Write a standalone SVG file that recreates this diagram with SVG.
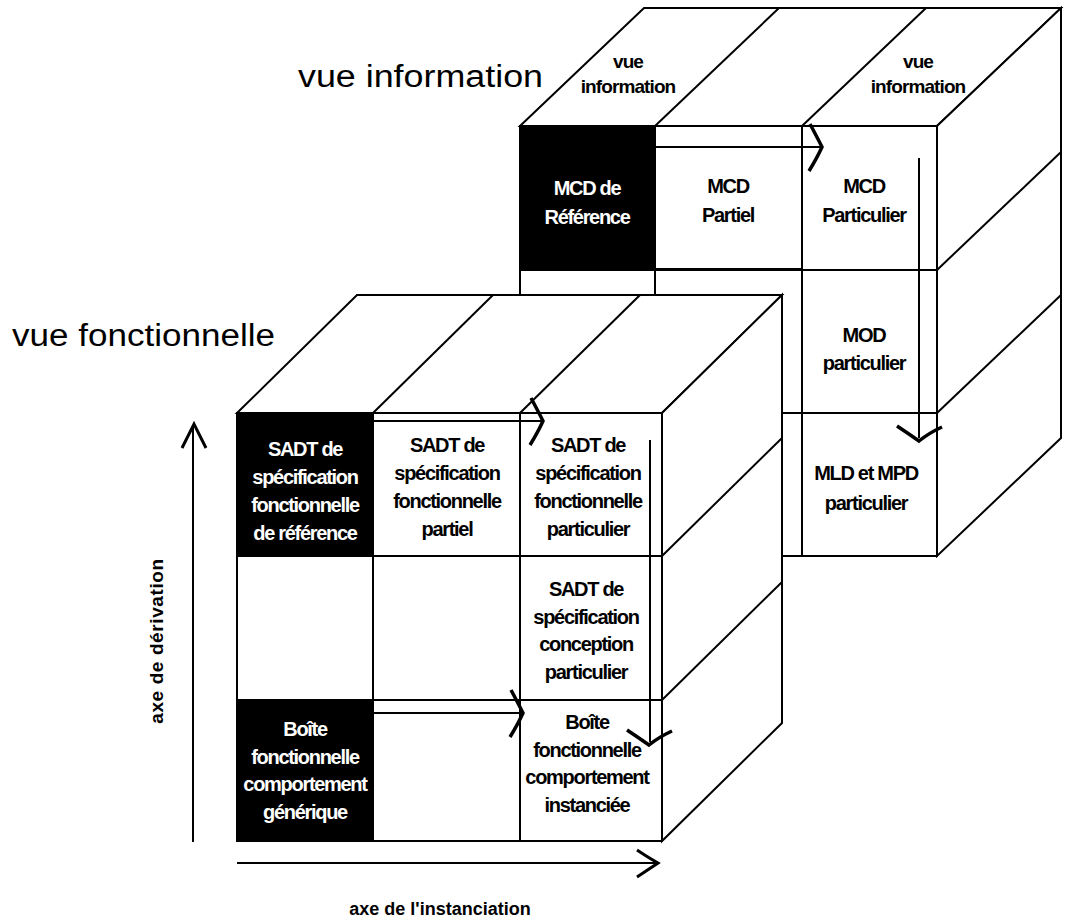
<svg xmlns="http://www.w3.org/2000/svg" xmlns:xlink="http://www.w3.org/1999/xlink" width="1066" height="922" viewBox="0 0 1066 922">
<style>
.ln{stroke:#000;stroke-width:2;fill:none}
.wf{fill:#fff;stroke:#000;stroke-width:2;stroke-linejoin:miter}
.blk{fill:#000;stroke:#000;stroke-width:2}
.t{font-family:"Liberation Sans",Arial,sans-serif;font-weight:bold;font-size:20px;letter-spacing:-1.3px;text-anchor:middle;fill:#000}
.w{fill:#fff}
.tv{font-family:"Liberation Sans",Arial,sans-serif;font-weight:bold;font-size:19px;letter-spacing:-0.9px;text-anchor:middle;fill:#000}
.hd{font-family:"Liberation Sans",Arial,sans-serif;font-size:31px;fill:#000}
.ax{font-family:"Liberation Sans",Arial,sans-serif;font-weight:bold;font-size:18px;text-anchor:middle;fill:#000}
</style>
<defs>
<path id="chevR" d="M-12,-23 Q-5,-10 0,0 Q-5,11 -13,24" fill="none" stroke="#000" stroke-width="3.5"/>
<path id="chevD" d="M-22,-15 Q-10,-7 0,0 Q10,-8 23,-14" fill="none" stroke="#000" stroke-width="3.5"/>
<path id="chevU" d="M-12,24 Q-5,10 0,0 Q5,10 12,24" fill="none" stroke="#000" stroke-width="3"/>
<path id="chevA" d="M-21,-13 Q-9,-5 0,0 Q-9,6 -21,14" fill="none" stroke="#000" stroke-width="3"/>
</defs>
<rect width="1066" height="922" fill="#fff"/>

<!-- headers -->
<text id="hdr-info" class="hd" x="298" y="87" textLength="245" lengthAdjust="spacingAndGlyphs">vue information</text>
<text id="hdr-fonc" class="hd" x="12" y="346" textLength="263" lengthAdjust="spacingAndGlyphs">vue fonctionnelle</text>

<!-- back cube: vue information -->
<g id="cube-information">
<polygon class="wf" points="520,126 644,8 1061,8 937,126"/>
<polygon class="wf" points="937,126 1061,8 1061,438 937,556"/>
<rect class="wf" x="520" y="126" width="417" height="430"/>
<line class="ln" x1="655" y1="126" x2="779" y2="8"/>
<line class="ln" x1="802" y1="126" x2="926" y2="8"/>
<line class="ln" x1="937" y1="270" x2="1061" y2="152"/>
<line class="ln" x1="937" y1="413" x2="1061" y2="295"/>
<line class="ln" x1="520" y1="270" x2="937" y2="270"/>
<line class="ln" x1="655" y1="269" x2="802" y2="269" stroke-width="3"/>
<line class="ln" x1="520" y1="413" x2="937" y2="413"/>
<line class="ln" x1="655" y1="126" x2="655" y2="556"/>
<line class="ln" x1="802" y1="126" x2="802" y2="556"/>
<text class="tv" x="628" y="68">vue</text>
<text class="tv" x="628" y="93">information</text>
<text class="tv" x="918" y="68">vue</text>
<text class="tv" x="918" y="93">information</text>
</g>
<g id="node-mcd-reference">
<rect class="blk" x="520" y="126" width="135" height="144"/>
<text class="t w" x="587" y="195">MCD de</text>
<text class="t w" x="587" y="224">Référence</text>
</g>
<g id="node-mcd-partiel">
<text class="t" x="728" y="193">MCD</text>
<text class="t" x="728" y="222">Partiel</text>
</g>
<g id="node-mcd-particulier">
<text class="t" x="864" y="193">MCD</text>
<text class="t" x="864" y="222">Particulier</text>
</g>
<g id="node-mod-particulier">
<text class="t" x="864" y="342">MOD</text>
<text class="t" x="864" y="370">particulier</text>
</g>
<g id="node-mld-mpd">
<text class="t" x="866" y="480">MLD et MPD</text>
<text class="t" x="866" y="510">particulier</text>
</g>

<!-- front cube: vue fonctionnelle -->
<g id="cube-fonctionnelle">
<polygon class="wf" points="237,413 357,295 782,295 662,413"/>
<polygon class="wf" points="662,413 782,295 782,723 662,841"/>
<rect class="wf" x="237" y="413" width="425" height="428"/>
<line class="ln" x1="373" y1="413" x2="493" y2="295"/>
<line class="ln" x1="520" y1="413" x2="640" y2="295"/>
<line class="ln" x1="662" y1="556" x2="782" y2="438"/>
<line class="ln" x1="662" y1="700" x2="782" y2="582"/>
<line class="ln" x1="237" y1="556" x2="662" y2="556"/>
<line class="ln" x1="237" y1="700" x2="662" y2="700"/>
<line class="ln" x1="373" y1="413" x2="373" y2="841"/>
<line class="ln" x1="520" y1="413" x2="520" y2="841"/>
</g>
<g id="node-sadt-reference">
<rect class="blk" x="237" y="413" width="136" height="143"/>
<text class="t w" x="305" y="456">SADT de</text>
<text class="t w" x="305" y="484">spécification</text>
<text class="t w" x="305" y="512">fonctionnelle</text>
<text class="t w" x="305" y="540">de référence</text>
</g>
<g id="node-sadt-partiel">
<text class="t" x="447" y="452">SADT de</text>
<text class="t" x="447" y="480">spécification</text>
<text class="t" x="447" y="508">fonctionnelle</text>
<text class="t" x="447" y="536">partiel</text>
</g>
<g id="node-sadt-particulier">
<text class="t" x="588" y="452">SADT de</text>
<text class="t" x="588" y="480">spécification</text>
<text class="t" x="588" y="508">fonctionnelle</text>
<text class="t" x="588" y="536">particulier</text>
</g>
<g id="node-sadt-conception">
<text class="t" x="586" y="596">SADT de</text>
<text class="t" x="586" y="624">spécification</text>
<text class="t" x="586" y="651">conception</text>
<text class="t" x="586" y="679">particulier</text>
</g>
<g id="node-boite-generique">
<rect class="blk" x="237" y="700" width="136" height="141"/>
<text class="t w" x="305" y="736">Boîte</text>
<text class="t w" x="305" y="764">fonctionnelle</text>
<text class="t w" x="305" y="791">comportement</text>
<text class="t w" x="305" y="819">générique</text>
</g>
<g id="node-boite-instanciee">
<text class="t" x="587" y="729">Boîte</text>
<text class="t" x="587" y="757">fonctionnelle</text>
<text class="t" x="587" y="784">comportement</text>
<text class="t" x="587" y="812">instanciée</text>
</g>

<!-- connectors -->
<g id="connectors">
<line class="ln" x1="655" y1="147" x2="820" y2="147"/>
<use xlink:href="#chevR" x="822" y="147"/>
<line class="ln" x1="919" y1="158" x2="919" y2="438"/>
<use xlink:href="#chevD" x="919" y="441"/>
<line class="ln" x1="373" y1="421" x2="541" y2="421"/>
<use xlink:href="#chevR" x="543" y="421"/>
<line class="ln" x1="373" y1="713" x2="521" y2="713"/>
<use xlink:href="#chevR" x="523" y="713"/>
<line class="ln" x1="650" y1="440" x2="650" y2="742"/>
<use xlink:href="#chevD" x="649" y="745"/>
<line class="ln" x1="193" y1="842" x2="193" y2="426"/>
<use xlink:href="#chevU" x="194" y="424"/>
<line class="ln" x1="237" y1="863" x2="656" y2="863"/>
<use xlink:href="#chevA" x="658" y="863"/>
</g>

<!-- axis labels -->
<text id="lbl-derivation" class="ax" transform="translate(163,641) rotate(-90)" style="font-size:19px;letter-spacing:0.6px">axe de dérivation</text>
<text id="lbl-instanciation" class="ax" x="440" y="915">axe de l'instanciation</text>
</svg>
